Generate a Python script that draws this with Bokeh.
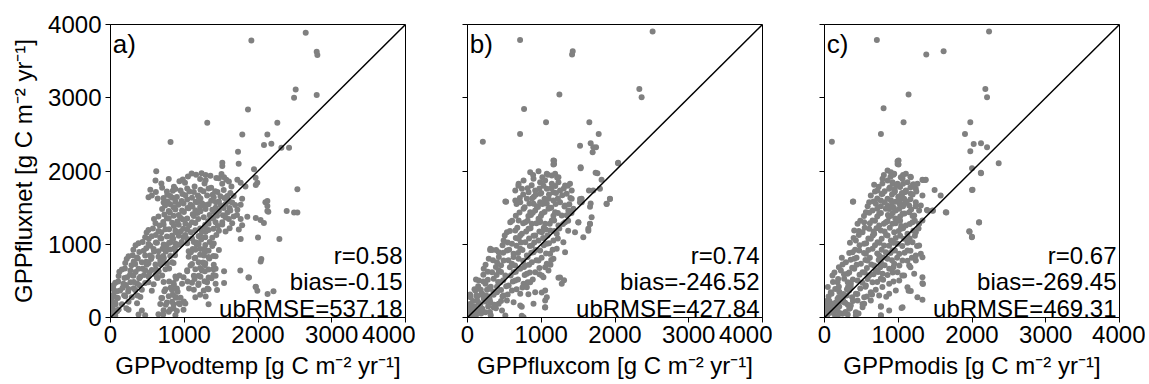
from bokeh.plotting import figure
from bokeh.layouts import row
from bokeh.models import Range1d, FixedTicker
from bokeh.core.properties import value
from bokeh.embed import file_html
from bokeh.resources import INLINE

# ---------------- data (g C m-2 yr-1) ----------------
# panel a: GPPvodtemp (x) vs GPPfluxnet (y)
a_x = [620, 1100, 1160, 1235, 1355, 1505, 1540,
       610, 790, 935, 980, 1290, 1470, 1605, 1720, 1765,
       540, 700, 765, 880, 950, 1040, 1130, 1220, 1330, 1420, 1535, 1625, 1830, 1970,
       515, 560, 720, 810, 900, 1015, 1105, 1195, 1310, 1400, 1490, 1580, 1670, 1785,
       720, 810, 880, 990, 1085, 1175, 1240, 1330, 1470, 1560, 1650, 1765, 2100,
       700, 790, 880, 970, 1060, 1150, 1220, 1290, 1380, 1470, 1535, 1625, 1720, 2140,
       650, 765, 855, 945, 1040, 1130, 1265, 1355, 1445, 1560, 1670, 1765, 1855, 1970, 2035,
       610, 720, 835, 925, 1015, 1150, 1285, 1330, 1425, 1515, 1650, 1785, 2080,
       515, 650, 745, 880, 950, 1040, 1150, 1240, 1330, 1470, 1560, 1740,
       470, 560, 675, 765, 835, 925, 990, 1105, 1195, 1285, 1380, 1765, 2290,
       380, 515, 630, 720, 810, 880, 950, 1040, 1130, 1195, 1285, 1400,
       310, 450, 585, 650, 745, 810, 880, 1060, 1150, 1220, 1330, 1470,
       245, 360, 470, 560, 650, 720, 810, 1060, 1150, 1265, 1330, 1425, 2045,
       200, 335, 425, 515, 610, 700, 765, 855, 1105, 1195, 1285, 1400,
       155, 270, 380, 470, 560, 650, 745, 1040, 1150, 1240, 1330, 1425, 1540, 1760,
       110, 225, 310, 405, 515, 630, 700, 880, 990, 1130, 1220, 1330, 1425, 1870,
       65, 175, 270, 360, 470, 585, 720, 855, 970, 1105, 1195, 1310, 1425, 1540, 1970,
       40, 130, 245, 335, 425, 560, 745, 835, 900, 1130, 1265, 1330, 1445,
       20, 85, 200, 290, 405, 700, 790, 880, 950, 1150, 1290, 2130, 2210,
       5, 65, 155, 360, 675, 765, 855, 925, 1015, 1330,
       5, 40, 110, 245, 425, 720, 810, 900, 990,
       5, 65, 380, 470, 650, 880,
       2647, 1910, 2796, 2805, 2511, 2489, 2796, 1864, 1312, 2262, 814, 1787, 2127,
       2081, 2181, 2317, 2421, 1729, 1738, 1516, 1516, 1946, 1968, 1991, 2534,
       2127, 2127, 2127, 2389, 2489, 2534, 2000, 2036, 1878, 1968, 1991]
a_y = [1995, 1965, 1950, 1970, 1935, 1960, 1915,
       1870, 1890, 1860, 1885, 1875, 1900, 1855, 1880, 1840,
       1745, 1770, 1720, 1755, 1735, 1760, 1715, 1745, 1760, 1725, 1740, 1700, 1790, 1810,
       1640, 1665, 1630, 1660, 1645, 1670, 1635, 1650, 1665, 1640, 1655, 1630, 1660, 1620,
       1570, 1545, 1580, 1555, 1540, 1575, 1560, 1545, 1585, 1550, 1570, 1540, 1575,
       1480, 1455, 1475, 1460, 1490, 1465, 1450, 1480, 1470, 1455, 1495, 1460, 1470, 1445,
       1380, 1355, 1390, 1365, 1350, 1385, 1370, 1355, 1390, 1365, 1380, 1345, 1375, 1360, 1330,
       1285, 1270, 1295, 1265, 1280, 1290, 1265, 1280, 1300, 1270, 1285, 1260, 1290,
       1195, 1180, 1205, 1185, 1175, 1200, 1190, 1170, 1195, 1185, 1175, 1200,
       1095, 1110, 1090, 1105, 1085, 1115, 1100, 1080, 1110, 1095, 1090, 1070, 1070,
       1015, 1005, 1020, 995, 1025, 1010, 1000, 1015, 1030, 1005, 990, 1010,
       925, 910, 935, 905, 920, 930, 915, 905, 925, 935, 910, 920,
       835, 820, 845, 825, 830, 815, 840, 830, 815, 845, 825, 835, 800,
       745, 730, 755, 740, 725, 750, 735, 745, 730, 755, 740, 720,
       655, 640, 665, 645, 650, 635, 660, 645, 660, 640, 655, 665, 630, 640,
       565, 550, 570, 555, 560, 545, 575, 560, 550, 570, 555, 545, 570, 545,
       475, 460, 480, 465, 470, 455, 485, 470, 460, 475, 465, 480, 460, 470, 420,
       385, 370, 390, 375, 380, 365, 385, 375, 395, 380, 370, 385, 375,
       285, 270, 290, 275, 280, 265, 290, 280, 270, 275, 285, 320, 360,
       190, 200, 180, 195, 185, 205, 180, 195, 190, 180,
       100, 95, 110, 105, 95, 100, 110, 90, 105,
       30, 25, 40, 30, 45, 30,
       3886, 3782, 3627, 3582, 3114, 3000, 3036, 2841, 2659, 2659, 2395, 2500, 2500,
       2355, 2373, 2318, 2318, 2264, 2100, 2114, 2068, 2023, 1909, 1841, 1750,
       1591, 1523, 1455, 1455, 1432, 1432, 1091, 764, 545, 418, 364]
a_fill = [(1050, 1925), (1215, 1890), (1290, 1945), (1435, 1905), (1570, 1880),
          (690, 1830), (860, 1785), (1010, 1840), (1140, 1790), (1275, 1830), (1365, 1770), (1515, 1825), (1640, 1790),
          (615, 1715), (770, 1675), (845, 1730), (975, 1685), (1070, 1720), (1185, 1665), (1260, 1725), (1385, 1675), (1450, 1715), (1585, 1660),
          (640, 1625), (775, 1585), (840, 1635), (965, 1590), (1040, 1610), (1155, 1580), (1220, 1625), (1365, 1595), (1430, 1575), (1545, 1630), (1610, 1585),
          (740, 1530), (855, 1505), (920, 1540), (1045, 1495), (1110, 1520), (1215, 1505), (1280, 1535), (1425, 1500), (1495, 1530), (1615, 1495), (1690, 1535),
          (730, 1405), (805, 1435), (925, 1400), (995, 1440), (1115, 1410), (1180, 1425), (1345, 1400), (1405, 1445), (1525, 1395), (1585, 1435), (1715, 1400),
          (590, 1345), (715, 1305), (790, 1350), (905, 1310), (975, 1340), (1105, 1300), (1190, 1345), (1325, 1315), (1390, 1350), (1515, 1300), (1605, 1345),
          (575, 1215), (665, 1255), (795, 1205), (860, 1250), (985, 1210), (1065, 1255), (1215, 1215), (1280, 1240), (1395, 1210), (1455, 1250), (1615, 1220),
          (490, 1160), (615, 1125), (690, 1165), (835, 1120), (900, 1160), (1015, 1125), (1090, 1165), (1215, 1120), (1290, 1170), (1435, 1125),
          (435, 1030), (520, 1075), (615, 1025), (690, 1080), (795, 1020), (850, 1075), (965, 1030), (1040, 1070), (1165, 1025), (1230, 1065), (1345, 1030),
          (340, 985), (485, 945), (540, 980), (705, 940), (760, 985), (865, 945), (910, 990), (1115, 935), (1170, 990), (1275, 940), (1380, 975),
          (300, 850), (390, 895), (535, 845), (590, 900), (715, 840), (750, 900), (875, 850), (1090, 890), (1215, 855), (1280, 895), (1395, 840),
          (220, 800), (315, 765), (370, 805), (485, 760), (550, 800), (675, 770), (720, 805), (835, 755), (1140, 810), (1255, 750), (1340, 805),
          (195, 670), (285, 715), (435, 665), (490, 720), (615, 660), (680, 725), (795, 670), (1085, 710), (1215, 675), (1280, 715), (1395, 660),
          (120, 625), (265, 585), (340, 620), (455, 580), (530, 615), (615, 585), (650, 625), (935, 575), (1040, 630), (1195, 570), (1280, 630), (1395, 580),
          (105, 490), (190, 540), (315, 485), (390, 535), (515, 480), (640, 540), (795, 490), (890, 530), (1045, 490), (1140, 525), (1275, 495), (1370, 535),
          (40, 440), (165, 405), (210, 445), (315, 400), (390, 440), (815, 405), (860, 445), (1065, 395), (1190, 445), (1315, 395),
          (40, 310), (90, 360), (185, 305), (240, 355), (365, 300), (730, 360), (845, 310), (910, 350), (1215, 310),
          (20, 220), (100, 265), (245, 215), (690, 265), (835, 215), (890, 270), (995, 220),
          (30, 130), (70, 180), (215, 125), (750, 175), (855, 125), (940, 180),
          (40, 45), (90, 85), (715, 40), (790, 80)]

# panel b: GPPfluxcom (x) vs GPPfluxnet (y)
b_x = [1165, 1165, 1534, 1737, 2043, 850, 963, 1075, 1143, 1188, 1233,
       693, 760, 895, 985, 1053, 1143, 1233, 1323, 1390, 1818, 1796, 1705,
       648, 738, 828, 918, 985, 1075, 1165, 1255, 1345, 1413, 1647, 513,
       648, 715, 805, 895, 985, 1075, 1165, 1255, 1323, 1413, 1548, 1931, 1886,
       760, 850, 918, 1008, 1098, 1188, 1278, 1368, 1435, 1525, 1683, 1660,
       580, 693, 783, 873, 963, 1053, 1143, 1233, 1323, 1503, 1638,
       535, 648, 738, 828, 918, 1008, 1120, 1210, 1458, 1570,
       490, 603, 693, 783, 873, 963, 1075, 1165, 1300,
       310, 423, 535, 625, 715, 805, 895, 985, 1120, 1210, 1323,
       288, 400, 490, 603, 693, 783, 873, 963, 1075, 1165,
       220, 333, 423, 513, 625, 715, 805, 918, 1008, 1098, 1053,
       153, 243, 355, 445, 558, 648, 760, 850, 1030, 1233, 1278,
       108, 198, 288, 400, 490, 603, 715, 805, 918, 1053, 1075,
       40, 130, 220, 310, 423, 535, 625, 895, 1053,
       10, 63, 153, 243, 355, 468, 715, 1053,
       18, 513, 760,
       50, 100, 150, 200, 250, 300, 350, 400, 180, 120, 80, 280,
       900, 1000, 1100, 940, 1040, 860, 1200, 1120, 980, 1060,
       2510, 713, 1427, 1418, 1246, 2330, 2361, 767, 1065, 713, 208, 1652, 1779,
       1526, 1670, 1706, 1743, 1697, 2041, 1174, 1174, 1535, 1761, 524, 1932, 1887,
       1670, 1661, 1526, 1549, 1503, 1661, 1639, 1255, 1309, 1052, 736, 736, 307, 388,
       826, 1007]
b_y = [2143, 2088, 2052, 1975, 2111, 1984, 1997, 1961, 1938, 1961, 1916,
       1825, 1870, 1893, 1847, 1870, 1825, 1847, 1802, 1825, 1879, 1756, 1734,
       1734, 1756, 1711, 1734, 1688, 1756, 1711, 1734, 1688, 1734, 1734, 1583,
       1597, 1574, 1620, 1552, 1574, 1552, 1597, 1574, 1529, 1620, 1620, 1620, 1552,
       1483, 1438, 1461, 1415, 1483, 1438, 1392, 1461, 1483, 1574, 1370, 1279,
       1301, 1324, 1301, 1279, 1347, 1279, 1324, 1256, 1301, 1301, 1210,
       1165, 1188, 1142, 1210, 1119, 1165, 1188, 1142, 1165, 1097,
       1051, 1006, 1074, 1028, 983, 1051, 1006, 1051, 1028,
       937, 892, 915, 869, 937, 846, 892, 915, 869, 937, 892,
       801, 755, 778, 733, 801, 710, 755, 778, 733, 801,
       664, 619, 642, 573, 619, 664, 596, 619, 573, 642, 687,
       505, 460, 528, 482, 437, 505, 460, 482, 551, 541, 460,
       368, 323, 391, 346, 300, 368, 323, 414, 346, 368, 278,
       278, 232, 255, 209, 187, 232, 209, 187, 232,
       141, 118, 96, 73, 141, 96, 164, 141,
       27, 27, 5,
       60, 150, 200, 120, 300, 250, 350, 420, 380, 300, 30, 150,
       1650, 1700, 1620, 1520, 1560, 1400, 1700, 1500, 1300, 1200,
       3904, 3790, 3636, 3590, 3043, 3121, 3007, 2847, 2665, 2506, 2401, 2665, 2506,
       2346, 2378, 2323, 2323, 2255, 2105, 2141, 2096, 2036, 1968, 1581, 1617, 1549,
       1558, 1513, 1617, 1572, 1298, 1276, 1185, 547, 510, 137, 146, 23, 920, 920,
       319, 342]
b_fill = [(890, 1945), (1015, 1915), (1090, 1950), (1215, 1910),
          (690, 1800), (815, 1765), (870, 1805), (975, 1760), (1030, 1800), (1135, 1765), (1190, 1795), (1305, 1760), (1360, 1800),
          (710, 1630), (755, 1680), (875, 1625), (925, 1675), (1045, 1620), (1105, 1680), (1225, 1625), (1285, 1670), (1395, 1630),
          (665, 1550), (775, 1505), (840, 1555), (955, 1510), (1015, 1550), (1135, 1500), (1195, 1550), (1315, 1515), (1380, 1545),
          (655, 1390), (705, 1435), (825, 1385), (885, 1430), (995, 1385), (1045, 1440), (1165, 1390), (1225, 1425), (1345, 1395), (1410, 1425),
          (605, 1320), (755, 1285), (815, 1320), (935, 1285), (985, 1315), (1115, 1280), (1175, 1325), (1295, 1275), (1365, 1320),
          (575, 1180), (675, 1225), (795, 1175), (855, 1220), (975, 1175), (1035, 1225), (1175, 1180), (1245, 1215), (1365, 1185),
          (505, 1120), (655, 1085), (715, 1120), (835, 1080), (895, 1115), (1025, 1085), (1085, 1120), (1225, 1080),
          (475, 985), (545, 1025), (665, 980), (725, 1025), (845, 975), (905, 1025), (1035, 985), (1105, 1015),
          (335, 920), (485, 885), (565, 925), (685, 880), (745, 920), (865, 885), (925, 920), (1065, 875), (1155, 925),
          (345, 780), (425, 825), (555, 780), (625, 825), (755, 775), (815, 825), (935, 780), (1005, 815), (1135, 785),
          (245, 720), (385, 690), (455, 715), (575, 685), (645, 710), (765, 690), (835, 720), (975, 675), (1125, 720),
          (215, 585), (275, 625), (395, 580), (455, 620), (585, 575), (655, 625), (775, 580), (845, 615), (975, 590),
          (115, 520), (215, 490), (275, 515), (415, 485), (485, 510), (615, 490), (685, 520), (815, 480), (885, 520),
          (95, 385), (145, 425), (265, 380), (315, 420), (455, 375), (525, 425), (665, 385), (745, 410),
          (35, 315), (135, 290), (185, 315), (295, 285), (355, 310), (475, 290), (545, 315),
          (35, 185), (75, 225), (175, 180), (245, 220), (365, 175), (455, 225),
          (20, 85), (40, 125), (125, 80), (185, 120), (305, 75), (385, 125),
          (20, 55), (115, 30), (185, 55), (315, 30)]

# panel c: GPPmodis (x) vs GPPfluxnet (y)
c_x = [1004, 1004, 2120, 2007, 855, 900, 945, 1103, 1170, 1328, 1373,
       673, 787, 855, 922, 990, 1058, 1125, 1193, 1260, 389,
       628, 718, 787, 877, 945, 1035, 1103, 1170, 1238, 1328, 1575,
       606, 696, 764, 855, 922, 1013, 1080, 1148, 1238, 1306, 1396, 1645,
       561, 651, 741, 832, 900, 967, 1058, 1148, 1216, 1283, 1464, 1328,
       448, 538, 651, 741, 832, 922, 1013, 1103, 1193, 1283, 2097,
       403, 516, 606, 674, 764, 855, 945, 1035, 1125, 1238, 1962, 1998,
       425, 538, 628, 719, 809, 900, 990, 1080, 1193, 1283,
       380, 470, 561, 651, 741, 832, 922, 1013, 1125, 1238, 1328, 1306,
       290, 403, 493, 583, 674, 764, 855, 945, 1058, 1148, 1238,
       222, 312, 403, 516, 606, 696, 787, 877, 990, 1080, 1216, 1328,
       108, 177, 267, 357, 448, 561, 651, 764, 877, 1013, 1125, 1328,
       86, 177, 244, 335, 425, 538, 628, 741, 877, 967, 1170,
       41, 108, 177, 267, 357, 448, 538, 628, 1058, 1260, 1328,
       18, 86, 154, 244, 335, 425, 516, 764, 877,
       9, 177, 425, 764,
       50, 100, 150, 200, 250, 300, 60, 120, 280, 320, 200,
       950, 1000, 1050, 900, 980, 1080, 1020, 940, 860, 1100, 960, 1040,
       2231, 710, 1380, 1615, 1140, 2181, 2204, 801, 1072, 765, 100, 1977, 1905,
       2023, 2122, 1977, 2204, 2362, 2000, 2122, 991, 991, 2000, 2095, 1968, 2000,
       385, 1652, 1493, 1335, 1367, 1389, 1471, 1335, 1045, 765, 765, 837, 1140, 462]
c_y = [2143, 2088, 1975, 1743, 2006, 1984, 1961, 1961, 1916, 1880, 1880,
       1811, 1893, 1870, 1847, 1825, 1893, 1847, 1802, 1825, 1583,
       1665, 1734, 1688, 1756, 1711, 1665, 1734, 1688, 1756, 1665, 1665,
       1574, 1552, 1597, 1529, 1574, 1597, 1552, 1529, 1574, 1529, 1461, 1438,
       1438, 1461, 1415, 1483, 1392, 1461, 1415, 1438, 1392, 1461, 1461, 1324,
       1279, 1301, 1324, 1256, 1301, 1279, 1324, 1256, 1301, 1279, 1301,
       1188, 1165, 1210, 1142, 1188, 1119, 1165, 1210, 1142, 1165, 1178, 1097,
       1051, 1006, 1074, 1028, 983, 1051, 1006, 1074, 1028, 983,
       892, 915, 869, 937, 846, 892, 915, 869, 915, 846, 824, 869,
       755, 801, 733, 778, 710, 755, 801, 733, 778, 710, 778,
       642, 596, 664, 619, 573, 642, 596, 664, 619, 573, 596, 551,
       573, 482, 528, 460, 505, 437, 482, 528, 460, 505, 414, 469,
       346, 391, 300, 368, 323, 278, 346, 300, 323, 368, 362,
       232, 187, 255, 209, 164, 232, 187, 232, 141, 278, 241,
       118, 73, 96, 50, 118, 73, 141, 155, 96,
       5, 18, 30, 30,
       50, 120, 200, 150, 250, 300, 180, 60, 200, 420, 350,
       1750, 1650, 1700, 1600, 1800, 1620, 1550, 1500, 1400, 1720, 1350, 1250,
       3904, 3790, 3590, 3636, 3043, 3121, 3007, 2856, 2665, 2506, 2401, 2665, 2506,
       2369, 2378, 2269, 2323, 2105, 2036, 1968, 2132, 2096, 1740, 1298, 1171, 1102,
       1581, 1435, 1740, 1877, 1877, 1467, 1458, 456, 128, 146, 23, 282, 364, 55]
c_fill = [(805, 1945), (895, 1920), (935, 1950), (1035, 1915), (1065, 1945), (1165, 1920),
          (735, 1785), (785, 1830), (885, 1775), (925, 1825), (1025, 1780), (1065, 1825), (1165, 1775), (1205, 1820),
          (685, 1720), (775, 1685), (815, 1725), (915, 1680), (955, 1720), (1055, 1685), (1095, 1715), (1195, 1680), (1245, 1720),
          (665, 1585), (715, 1625), (815, 1575), (855, 1620), (965, 1580), (1015, 1625), (1115, 1580), (1165, 1615),
          (585, 1520), (715, 1485), (765, 1520), (875, 1480), (915, 1515), (1015, 1485), (1065, 1520), (1175, 1475), (1235, 1520),
          (535, 1385), (605, 1430), (715, 1380), (765, 1425), (875, 1375), (925, 1425), (1025, 1380), (1085, 1420), (1195, 1385),
          (485, 1320), (615, 1285), (685, 1320), (805, 1280), (855, 1315), (965, 1285), (1025, 1320), (1155, 1275), (1225, 1320),
          (465, 1180), (545, 1225), (665, 1175), (705, 1220), (815, 1175), (885, 1225), (1005, 1180), (1065, 1220), (1205, 1185), (1275, 1215),
          (395, 1085), (465, 1125), (595, 1080), (655, 1120), (775, 1075), (835, 1125), (965, 1085), (1025, 1115), (1155, 1080), (1225, 1115),
          (345, 1020), (475, 985), (565, 1015), (685, 985), (745, 1020), (875, 980), (935, 1020), (1055, 975), (1125, 1020), (1255, 975),
          (335, 880), (415, 925), (535, 880), (595, 920), (715, 875), (775, 925), (895, 880), (955, 915), (1085, 885), (1165, 910),
          (235, 815), (355, 790), (435, 815), (555, 785), (615, 815), (735, 785), (795, 820), (915, 780), (985, 815), (1125, 775), (1185, 815),
          (195, 685), (245, 725), (375, 680), (435, 720), (575, 675), (635, 725), (755, 685), (815, 715), (935, 685), (1015, 710), (1165, 685),
          (135, 615), (265, 590), (335, 615), (475, 585), (545, 615), (665, 590), (725, 620), (855, 580), (925, 615), (1055, 575),
          (115, 485), (185, 525), (315, 480), (385, 520), (515, 475), (585, 525), (715, 485), (795, 515), (935, 490),
          (45, 415), (145, 390), (195, 420), (305, 385), (355, 420), (485, 395), (555, 420), (695, 380), (785, 415),
          (55, 285), (95, 325), (195, 280), (255, 320), (375, 275), (445, 320), (575, 285), (645, 315),
          (35, 185), (65, 225), (155, 180), (205, 220), (315, 175), (385, 225), (515, 185),
          (25, 85), (35, 125), (125, 80), (175, 120), (285, 75), (345, 125),
          (35, 25), (45, 65), (145, 20), (205, 60), (315, 40)]

x_labels = ["GPPvodtemp [g C m\u207b\u00b2 yr\u207b\u00b9]",
            "GPPfluxcom [g C m\u207b\u00b2 yr\u207b\u00b9]",
            "GPPmodis [g C m\u207b\u00b2 yr\u207b\u00b9]"]
y_label = "GPPfluxnet [g C m\u207b\u00b2 yr\u207b\u00b9]"
panel_tags = ["a)", "b)", "c)"]
stats = [["r=0.58", "bias=-0.15", "ubRMSE=537.18"],
         ["r=0.74", "bias=-246.52", "ubRMSE=427.84"],
         ["r=0.67", "bias=-269.45", "ubRMSE=469.31"]]
ticks = [0, 1000, 2000, 3000, 4000]
one_to_one = [0, 4000]

FONT = "Liberation Sans"
FS = "24px"
series = [(a_x + [p[0] for p in a_fill], a_y + [p[1] for p in a_fill]),
          (b_x + [p[0] for p in b_fill], b_y + [p[1] for p in b_fill]),
          (c_x + [p[0] for p in c_fill], c_y + [p[1] for p in c_fill])]

figs = []
for i, (xs, ys) in enumerate(series):
    first = (i == 0)
    p = figure(frame_width=295, frame_height=293,
               x_range=Range1d(0, 4000), y_range=Range1d(0, 4000),
               output_backend="svg", toolbar_location=None,
               min_border_top=24, min_border_bottom=60,
               min_border_left=110 if first else 52,
               min_border_right=10 if i < 2 else 26)
    p.grid.visible = False
    p.outline_line_color = "black"
    p.outline_line_width = 1
    p.background_fill_color = "white"
    p.border_fill_color = "white"
    for ax in (p.xaxis, p.yaxis):
        ax.ticker = FixedTicker(ticks=ticks)
        ax.minor_tick_line_color = None
        ax.major_tick_out = 5
        ax.major_tick_in = 0
        ax.axis_line_color = "black"
        ax.major_tick_line_color = "black"
        ax.major_label_text_font = FONT
        ax.major_label_text_font_size = FS
        ax.major_label_text_color = "black"
        ax.axis_label_text_font = FONT
        ax.axis_label_text_font_size = FS
        ax.axis_label_text_font_style = "normal"
        ax.axis_label_text_color = "black"
    p.xaxis.axis_label = x_labels[i]
    p.xaxis.axis_label_standoff = 6
    p.xaxis.major_label_standoff = 3
    if first:
        p.yaxis.axis_label = y_label
        p.yaxis.axis_label_standoff = 8
        p.yaxis.major_label_standoff = 4
    else:
        p.yaxis.major_label_overrides = {t: "" for t in ticks}
        p.yaxis.major_label_text_color = None

    p.scatter(xs, ys, size=6, color="#808080", line_color=None)
    p.line(one_to_one, one_to_one, line_color="black", line_width=1.5)

    p.text(x=[30], y=[3730], text=[panel_tags[i]], text_font=value(FONT),
           text_font_size="26px", text_baseline="alphabetic", text_align="left",
           text_color="black")
    p.text(x=[3960, 3960, 3960], y=[846, 485, 123], text=stats[i],
           text_font=value(FONT), text_font_size=FS, text_align="right",
           text_baseline="alphabetic", text_color="black")
    figs.append(p)

layout = row(*figs)
open("out.html", "w").write(file_html(layout, INLINE))
